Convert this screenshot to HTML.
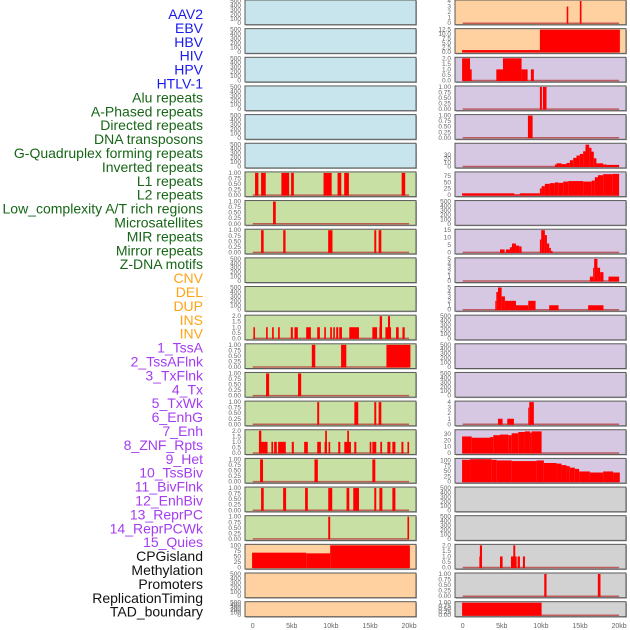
<!DOCTYPE html>
<html><head><meta charset="utf-8">
<style>
body{margin:0;background:#fff;width:630px;height:630px;overflow:hidden}
svg{display:block;font-family:"Liberation Sans",sans-serif}
</style></head>
<body>
<svg id="chart" width="630" height="630" viewBox="0 0 630 630" xmlns="http://www.w3.org/2000/svg"></svg>
<script>
const labels = ["AAV2","EBV","HBV","HIV","HPV","HTLV-1","Alu repeats","A-Phased repeats","Directed repeats","DNA transposons","G-Quadruplex forming repeats","Inverted repeats","L1 repeats","L2 repeats","Low_complexity A/T rich regions","Microsatellites","MIR repeats","Mirror repeats","Z-DNA motifs","CNV","DEL","DUP","INS","INV","1_TssA","2_TssAFlnk","3_TxFlnk","4_Tx","5_TxWk","6_EnhG","7_Enh","8_ZNF_Rpts","9_Het","10_TssBiv","11_BivFlnk","12_EnhBiv","13_ReprPC","14_ReprPCWk","15_Quies","CPGisland","Methylation","Promoters","ReplicationTiming","TAD_boundary"];
const groups = ["virus","virus","virus","virus","virus","virus","repeat","repeat","repeat","repeat","repeat","repeat","repeat","repeat","repeat","repeat","repeat","repeat","repeat","sv","sv","sv","sv","sv","chrom","chrom","chrom","chrom","chrom","chrom","chrom","chrom","chrom","chrom","chrom","chrom","chrom","chrom","chrom","other","other","other","other","other"];
const xTicks = [0,5,10,15,20];
const xTickLabels = ["0","5kb","10kb","15kb","20kb"];
const T500=[0,100,200,300,400,500], T1=[0,0.25,0.5,0.75,1], T2=[0,0.5,1,1.5,2];
// y-axis max and tick values per track
const yMax = [500,500,500,500,500,500, 1,1,1,500,500,2,1,1,1,2,1,1,1, 100,500,500,
  4,12.5,2,1,1,57,87,500,15,5,5,500,500,500,4,35,105,500,500,2,1,1];
const yTicks = [T500,T500,T500,T500,T500,T500, T1,T1,T1,T500,T500,T2,T1,T1,T1,T2,T1,T1,T1,[0,25,50,75,100],T500,T500,
  [0,1,2,3,4],[0,2.5,5,7.5,10,12.5],T2,T1,T1,[0,10,20,30],[0,25,50,75],T500,[0,5,10,15],[0,1,2,3,4,5],[0,1,2,3,4,5],T500,T500,T500,[0,1,2,3,4],[0,10,20,30],[0,25,50,75,100],T500,T500,[0,0.5,1,1.5,2],T1,T1];
// bars per track: [startKb, endKb, value]
const bars = [[],[],[],[],[],[],
 [[0.3,0.73,1],[1.07,1.67,1],[3.67,4.66,1],[4.91,5.26,1],[9.06,10.1,1],[10.85,11.33,1],[11.7,12.3,1],[19.05,19.5,1]],
 [[2.6,2.95,1]],
 [[1.07,1.4,1],[3.9,4.2,1],[9.65,10.2,1],[15.55,15.8,1],[16.1,16.45,1]],
 [],[],
 [[0.09,0.29,1],[1.71,1.92,1],[2.48,2.69,1],[3.25,3.46,1],[4.87,5.13,1],[5.34,5.77,1],[6.84,7.44,1],[8.25,8.59,1],[9.15,9.36,1],[9.91,10.13,1],[10.3,10.51,1],[10.68,10.94,1],[11.07,11.41,1],[12.35,13.59,1],[15.3,15.9,1],[16.2,16.5,1],[16.24,16.54,2],[16.97,17.69,1],[17.3,17.56,2],[18.33,18.67,1],[19.15,19.44,1]],
 [[7.56,8.0,1],[11.3,11.97,1],[17.1,20.17,1]],
 [[1.71,2.1,1],[5.8,6.2,1]],
 [[8.25,8.5,1],[13.0,13.5,1],[15.55,15.8,1],[16.1,16.45,1]],
 [[0.8,1.9,1],[0.8,1.1,2],[2.39,2.61,1],[2.74,3.08,1],[3.25,4.23,1],[5.0,5.26,1],[6.58,7.05,1],[8.25,8.72,1],[9.19,9.49,1],[9.27,9.49,2],[9.7,9.91,1],[10.94,11.2,1],[11.71,12.56,1],[12.09,12.31,2],[12.99,13.25,1],[14.96,15.17,1],[15.3,15.8,1],[16.32,16.54,1],[17.22,17.61,1],[17.86,18.25,1],[19.02,19.27,1],[19.79,20.0,1]],
 [[0.94,1.32,1],[7.9,8.33,1],[15.3,15.68,1]],
 [[1.07,1.41,1],[3.89,4.27,1],[6.7,7.05,1],[9.66,10.17,1],[12.0,12.35,1],[12.86,13.59,1],[15.55,15.8,1],[16.2,16.58,1],[17.86,18.25,1]],
 [[9.66,9.91,1],[19.79,20.0,1]],
 [[-0.08,6.84,67],[6.84,9.91,64],[9.91,20.1,100]],
 [],[],
 [[13.3,13.5,3],[14.98,15.19,4]],
 [[-0.08,9.87,1],[9.87,20.1,12.5]],
 [[-0.08,0.94,2],[0.94,1.15,1],[4.3,5.15,1],[5.15,7.53,2],[7.53,8.3,1],[8.72,9.1,1]],
 [[9.87,10.13,1],[10.26,10.72,1]],
 [[8.34,8.94,1]],
 [[11.79,12.0,5],[12.0,12.64,8],[12.64,13.28,6],[13.28,13.7,9],[13.7,14.13,16],[14.13,14.55,22],[14.55,14.98,28],[14.98,15.4,32],[15.4,15.7,39],[15.7,16.17,56],[16.17,16.47,48],[16.47,16.77,38],[16.77,17.1,21],[17.1,17.96,8],[17.96,18.38,5],[18.38,20.0,4]],
 [[-0.08,6.6,7],[6.6,7.3,3],[7.3,9.87,7],[9.87,10.09,26],[10.09,10.51,35],[10.51,11.15,44],[11.15,11.79,47],[11.79,12.21,50],[12.21,12.85,48],[12.85,13.49,53],[13.49,15.4,55],[15.4,16.5,53],[16.5,16.9,57],[16.9,17.3,70],[17.3,17.96,78],[17.96,19.2,82],[19.2,20.0,83]],
 [],
 [[4.77,5.36,2],[5.53,6.04,2],[6.04,6.3,3.5],[6.3,6.81,6],[6.81,7.23,4.6],[7.23,7.53,4],[9.87,10.04,8.7],[10.04,10.51,15],[10.51,10.77,11.7],[10.77,11.06,6],[11.06,11.28,3],[11.28,11.49,1]],
 [[16.26,16.68,1],[16.68,16.81,3],[16.81,17.23,5],[17.23,17.57,3],[17.57,18.0,2],[18.64,20.0,1]],
 [[4.17,4.3,2],[4.3,4.51,4],[4.51,4.98,5],[4.98,5.4,3],[5.4,6.81,2],[6.81,8.38,1],[8.38,9.32,2],[11.06,12.26,1],[16.04,18.0,1]],
 [],[],[],
 [[4.51,5.1,1],[5.7,6.55,1],[8.38,8.51,3],[8.51,9.1,4]],
 [[-0.08,1.15,26],[1.15,3.49,24],[3.49,3.91,25],[3.91,4.77,28],[4.77,5.83,29],[5.83,6.26,28],[6.26,7.11,31],[7.11,7.96,33],[7.96,8.6,34],[8.6,8.81,32],[8.81,10.09,34]],
 [[-0.08,0.94,103],[0.94,3.7,106],[3.7,4.34,103],[4.34,6.26,100],[6.26,9.45,97],[9.45,10.38,100],[10.38,12.0,88],[12.0,12.64,85],[12.64,13.28,78],[13.28,13.7,73],[13.7,14.34,66],[14.34,14.89,60],[14.89,16.26,48],[16.26,17.96,43],[17.96,19.23,48],[19.23,20.09,43]],
 [],[],
 [[2.13,2.47,1],[2.2,2.47,2],[4.77,5.1,1],[6.17,6.9,1],[6.47,6.72,2],[7.02,7.32,1],[7.7,7.96,1]],
 [[10.43,10.72,1],[17.28,17.62,1]],
 [[-0.08,10.09,1]]
];
const groupLabelColor = {virus:"#1a1aee",repeat:"#176617",sv:"#ffa318",chrom:"#a43cf0",other:"#111"};
const leftBg = ["#c8e4ec","#c8e0a4","#ffd0a0"];

const NS="http://www.w3.org/2000/svg";
const svg=document.getElementById('chart');
function mk(tag,attrs,parent){const e=document.createElementNS(NS,tag);for(const k in attrs)e.setAttribute(k,attrs[k]);(parent||svg).appendChild(e);return e;}
function bgFor(i){const g=groups[i];if(g==="virus")return "#c8e4ec";if(g==="repeat")return "#c8e0a4";if(g==="sv")return "#ffd0a0";if(g==="chrom")return "#d6c8e2";return "#d2d2d2";}

// labels
labels.forEach((t,i)=>{
  const el=mk('text',{x:203,y:14+i*13.9+5,'text-anchor':'end','font-size':'14',fill:groupLabelColor[groups[i]]});
  el.textContent=t;
  
  
});

function xScale(col,kb){return (col===0?252.7:462.7)+kb*7.82;}

for(let i=0;i<labels.length;i++){
  const col=i<22?0:1, row=i%22;
  const top=row===21?601.7:row*28.65, h=row===21?15:24.7;
  const left=col===0?245:455, w=171;
  const g=mk('g',{});
  
  
  mk('rect',{x:left+1,y:top+1,width:w,height:h,fill:'#aaa'},g);
  mk('rect',{x:left,y:top,width:w,height:h,fill:bgFor(i),stroke:'#5a5a5a','stroke-width':1},g);
  const y0=top+h-1.5, y1=top+1;
  const ys=v=>y0-(v/yMax[i])*(y0-y1);
  // ticks
  yTicks[i].forEach(tv=>{
    const lab=mk('text',{x:left-4,y:ys(tv)+2,'text-anchor':'end','font-size':'6.5',fill:'#666'},g);
    lab.textContent=(yMax[i]<=1?tv.toFixed(2):(yMax[i]<=2||yMax[i]===12.5?tv.toFixed(1):String(tv)));
    
    
  });
  if(bars[i].length){
    const bl=mk('line',{x1:xScale(col,0),x2:xScale(col,20),y1:y0,y2:y0,stroke:'#b84040','stroke-width':1.5,opacity:0.8},g);
    
    
  }
  bars[i].forEach(b=>{
    const xa=xScale(col,b[0]), xb=xScale(col,b[1]);
    const r=mk('rect',{x:xa,y:ys(b[2]),width:Math.max(1,xb-xa),height:y0-ys(b[2])+0.5,fill:'#ff0000'},g);
    
    
  });
}
// x axes
[0,1].forEach(col=>{
  xTicks.forEach((t,k)=>{
    const el=mk('text',{x:xScale(col,t),y:628,'text-anchor':'middle','font-size':'7',fill:'#666'});
    el.textContent=xTickLabels[k];
    
    
  });
});
</script>
</body></html>
